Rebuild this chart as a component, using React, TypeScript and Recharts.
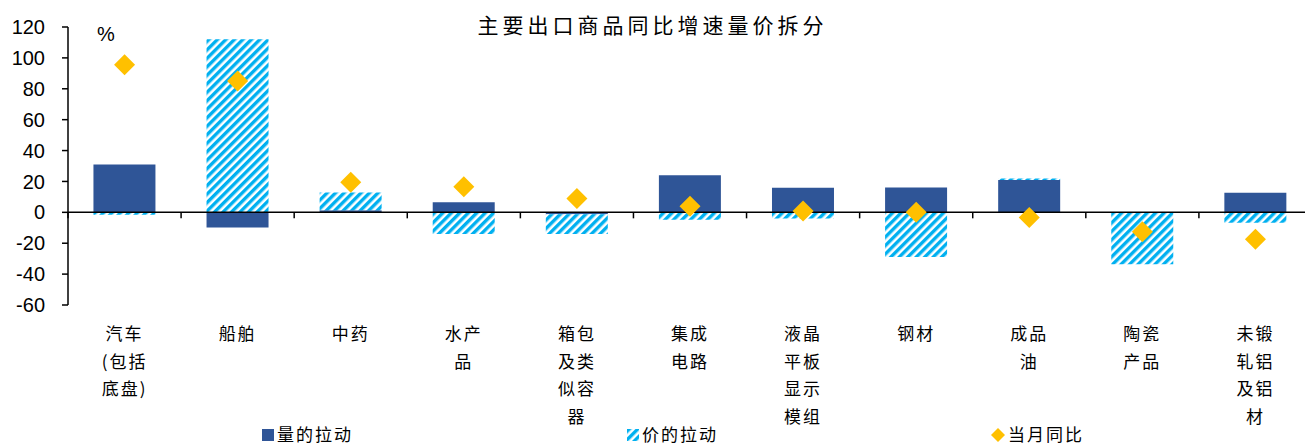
import React from 'react'
import {
  ComposedChart,
  Bar,
  Scatter,
  XAxis,
  YAxis,
  ReferenceLine,
} from 'recharts'

const categories = [
  '汽车(包括底盘)', '船舶', '中药', '水产品', '箱包及类似容器', '集成电路',
  '液晶平板显示模组', '钢材', '成品油', '陶瓷产品', '未锻轧铝及铝材',
]
const labelLines = [
  ['汽车', '(包括', '底盘)'], ['船舶'], ['中药'], ['水产', '品'], ['箱包', '及类', '似容', '器'],
  ['集成', '电路'], ['液晶', '平板', '显示', '模组'], ['钢材'], ['成品', '油'], ['陶瓷', '产品'],
  ['未锻', '轧铝', '及铝', '材'],
]
const volumePull = [31, -9.8, 1.3, 6.6, -1.3, 24, 15.9, 16, 21, -0.4, 12.7]
const pricePull = [-1.5, 112, 11.6, -14, -12.7, -4.8, -4, -29, 0.9, -33.2, -6.7]
const monthYoy = [95.5, 85, 19.5, 16.5, 9, 4, 0.8, 0, -3.3, -12.5, -17.5]
const yTicks = [-60, -40, -20, 0, 20, 40, 60, 80, 100, 120]

const data = categories.map((name, i) => ({
  name,
  volume: volumePull[i],
  price: pricePull[i],
  yoy: monthYoy[i],
}))

const CJK = '"Noto Sans CJK SC", sans-serif'
const DARK = '#2F5597'
const LIGHT = '#00B0F0'
const GOLD = '#FFC000'

function CategoryTick(props: any) {
  const { x, y, payload } = props
  const lines = labelLines[payload.index] || [payload.value]
  return (
    <g>
      {lines.map((ln: string, k: number) => (
        <text
          key={k}
          x={x}
          y={y + 27 + k * 27.7}
          textAnchor="middle"
          fontFamily={CJK}
          fontSize={17}
          letterSpacing={2}
          fill="#000"
        >
          {ln}
        </text>
      ))}
    </g>
  )
}

function Diamond(props: any) {
  const { cx, cy } = props
  const r = 10.5
  return (
    <polygon
      points={`${cx},${cy - r} ${cx + r},${cy} ${cx},${cy + r} ${cx - r},${cy}`}
      fill={GOLD}
    />
  )
}

function ZeroLine(props: any) {
  const { x1, y1, x2 } = props
  const step = (x2 - x1) / categories.length
  return (
    <g>
      <line x1={x1} y1={y1} x2={x2} y2={y1} stroke="#000" strokeWidth={1.5} />
      {categories.map((_, k) => (
        <line key={k} x1={x1 + k * step} y1={y1} x2={x1 + k * step} y2={y1 + 6} stroke="#000" strokeWidth={1.5} />
      ))}
    </g>
  )
}

export default function App() {
  return (
    <div style={{ position: 'absolute', left: 0, top: 0, width: 1305, height: 446, overflow: 'hidden', background: '#fff' }}>
      <div style={{
        position: 'absolute', left: 0, width: 1305, top: 9, textAlign: 'center',
        fontFamily: CJK, fontSize: 21, letterSpacing: 4, color: '#000',
      }}>
        主要出口商品同比增速量价拆分
      </div>
      <div style={{
        position: 'absolute', left: 97, top: 23, fontFamily: '"Liberation Sans", Arial',
        fontSize: 20, color: '#000',
      }}>
        %
      </div>

      <ComposedChart
        width={1320}
        height={446}
        data={data}
        stackOffset="sign"
        barCategoryGap="22.5%"
        margin={{ top: 27, right: 8, left: 0, bottom: 11 }}
      >
        <defs>
          <pattern id="hatch" width="6" height="6" patternUnits="userSpaceOnUse" patternTransform="rotate(45)">
            <rect width="6" height="6" fill="#fff" />
            <rect width="3.4" height="6" fill={LIGHT} />
          </pattern>
        </defs>
        <XAxis
          dataKey="name"
          axisLine={false}
          tickLine={false}
          interval={0}
          height={130}
          tick={<CategoryTick />}
        />
        <YAxis
          domain={[-60, 120]}
          ticks={yTicks}
          width={68}
          interval={0}
          axisLine={{ stroke: '#000', strokeWidth: 1.5 }}
          tickLine={{ stroke: '#000', strokeWidth: 1.5 }}
          tickSize={6}
          tickMargin={17}
          tick={{ fill: '#000', fontSize: 20, fontFamily: '"Liberation Sans", Arial' }}
        />
        <Bar dataKey="volume" stackId="s" fill={DARK} isAnimationActive={false} />
        <Bar dataKey="price" stackId="s" fill="url(#hatch)" isAnimationActive={false} />
        <ReferenceLine y={0} shape={<ZeroLine />} />
        <Scatter dataKey="yoy" shape={<Diamond />} isAnimationActive={false} />
      </ComposedChart>

      <div style={{
        position: 'absolute', top: 424, left: 0, width: 1305, height: 19,
        fontFamily: CJK, fontSize: 17, lineHeight: '19px', letterSpacing: 2, color: '#000',
      }}>
        <div style={{ position: 'absolute', left: 262, top: 5, width: 12, height: 12, background: DARK }} />
        <span style={{ position: 'absolute', left: 277, top: 0 }}>量的拉动</span>
        <svg style={{ position: 'absolute', left: 627, top: 5 }} width={12} height={12}>
          <defs>
            <pattern id="hatchL" width="6" height="6" patternUnits="userSpaceOnUse" patternTransform="rotate(45)">
              <rect width="6" height="6" fill="#fff" />
              <rect width="3.4" height="6" fill={LIGHT} />
            </pattern>
          </defs>
          <rect width={12} height={12} fill="url(#hatchL)" />
        </svg>
        <span style={{ position: 'absolute', left: 642, top: 0 }}>价的拉动</span>
        <svg style={{ position: 'absolute', left: 991, top: 4 }} width={14} height={14}>
          <polygon points="7,0 14,7 7,14 0,7" fill={GOLD} />
        </svg>
        <span style={{ position: 'absolute', left: 1008, top: 0 }}>当月同比</span>
      </div>
    </div>
  )
}
